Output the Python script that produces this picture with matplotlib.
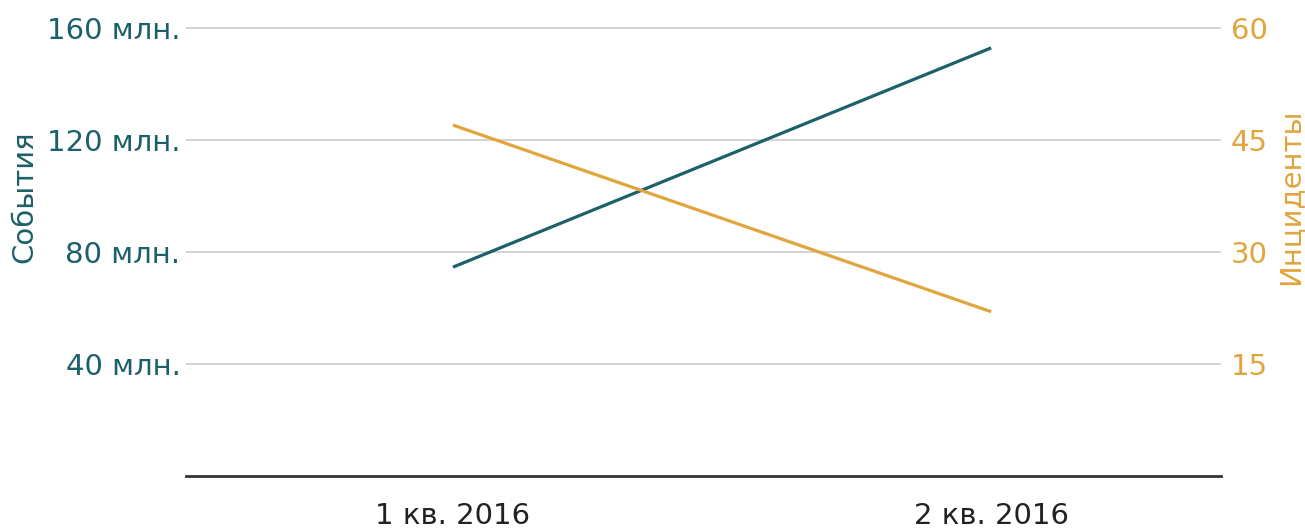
import matplotlib.pyplot as plt

quarters = ["1 кв. 2016", "2 кв. 2016"]
events_mln = [74.6, 152.9]      # События, млн.
incidents = [47, 22]            # Инциденты

event_ticks = [40, 80, 120, 160]
incident_ticks = [15, 30, 45, 60]

teal = "#1c6069"
amber = "#e0a53b"

plt.rcParams["font.family"] = "DejaVu Sans"
fs = 21

# a little headroom above the top gridline so it is not clipped
ev_top = 163
inc_top = ev_top * 60 / 160

fig = plt.figure(figsize=(13.05, 5.31), dpi=100)
px_per_unit = (476 - 28) / 160
ax_h = ev_top * px_per_unit
ax = fig.add_axes([186 / 1305, 55 / 531, (1221 - 186) / 1305, ax_h / 531])
ax2 = ax.twinx()

x = list(range(len(quarters)))
ax.plot(x, events_mln, color=teal, lw=2.3, solid_capstyle="butt", zorder=3)
ax2.plot(x, incidents, color=amber, lw=2.3, solid_capstyle="butt", zorder=3)

ax.set_xlim(-0.496, 1.427)
ax.set_ylim(0, ev_top)
ax2.set_ylim(0, inc_top)

ax.set_yticks(event_ticks)
ax.set_yticklabels([f"{v} млн." for v in event_ticks])
ax2.set_yticks(incident_ticks)
ax2.set_yticklabels([str(v) for v in incident_ticks])
ax.set_xticks(x)
ax.set_xticklabels(quarters)

ax.grid(axis="y", color="#d0d0d0", lw=1.3)
ax.set_axisbelow(True)

for a in (ax, ax2):
    for side in ("top", "left", "right", "bottom"):
        a.spines[side].set_visible(False)
ax.axhline(0, color="#333333", lw=2, zorder=4, clip_on=False)

ax.tick_params(axis="y", length=0, pad=4, labelsize=fs, labelcolor=teal)
ax2.tick_params(axis="y", length=0, pad=7, labelsize=fs, labelcolor=amber)
ax.tick_params(axis="x", length=0, pad=19, labelsize=fs, labelcolor="#222222")

ax.set_ylabel("События", color=teal, fontsize=fs)
ax2.set_ylabel("Инциденты", color=amber, fontsize=fs)
lab_y = 99.6 / ev_top
ax.yaxis.set_label_coords(-0.143, lab_y)
ax2.yaxis.set_label_coords(1.0535, lab_y)

fig.savefig("out.png", dpi=100)
